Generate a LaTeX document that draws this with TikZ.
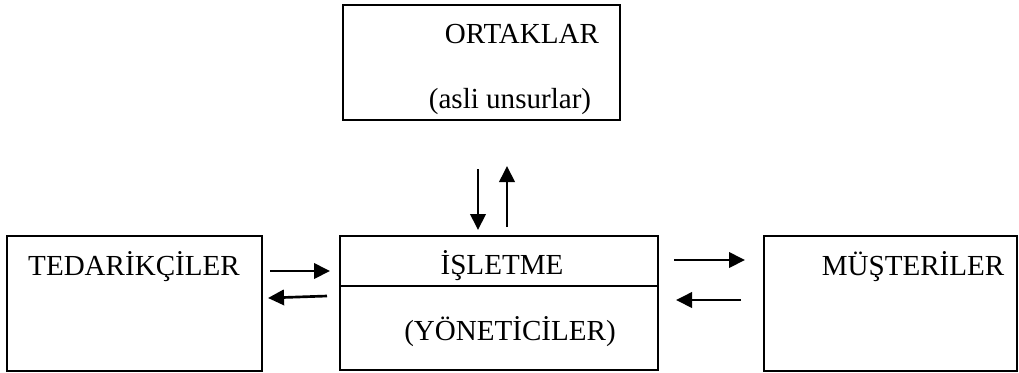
\documentclass[tikz,border=0pt]{standalone}
\usepackage{fontspec}
\setmainfont{Liberation Serif}
\usetikzlibrary{calc,arrows.meta}
\begin{document}
\begin{tikzpicture}[x=0.75pt,y=-0.75pt,
  box/.style={draw,line width=1.5pt,inner sep=0pt,minimum width=#1},
  lbl/.style={anchor=base,inner sep=0pt,font=\fontsize{21.8pt}{26pt}\selectfont},
  arr/.style={line width=2pt,-{Triangle[length=12pt,width=11.5pt]}}]
\useasboundingbox (0,0) rectangle (1019,372);
\node[box=277*0.75pt,minimum height=115*0.75pt] (ort) at (481.5,62.5) {};
\node[box=255*0.75pt,minimum height=135*0.75pt] (ted) at (134.5,303.5) {};
\node[box=318*0.75pt,minimum height=134*0.75pt] (isl) at (499,303) {};
\node[box=253*0.75pt,minimum height=135*0.75pt] (mus) at (890.5,303.5) {};
\draw[line width=1.5pt] (isl.west |- 0,286) -- (isl.east |- 0,286);
\node[lbl] (tort) at (522,43) {ORTAKLAR};
\node[lbl] (tasli) at (510,108) {(asli unsurlar)};
\node[lbl] (tted) at (134,275) {TEDARİKÇİLER};
\node[lbl] (tmus) at (913,275) {MÜŞTERİLER};
\node[lbl] (tisl) at (502,274) {İŞLETME};
\node[lbl] (tyon) at (510,340) {(YÖNETİCİLER)};
\draw[arr] ($(ort.south)+(-3.5,48)$) -- ($(isl.north)+(-21,-5)$);
\draw[arr] ($(isl.north)+(8,-8)$) -- ($(ort.south)+(25.5,45)$);
\draw[arr] ($(ted.east)+(7,-32.5)$) -- ($(isl.west)+(-9,-32)$);
\draw[arr] ($(isl.west)+(-12,-7)$) -- ($(ted.east)+(5,-5.5)$);
\draw[arr] ($(isl.east)+(15,-43)$) -- ($(mus.west)+(-18,-43.5)$);
\draw[arr] ($(mus.west)+(-22,-3.5)$) -- ($(isl.east)+(17,-3)$);
\end{tikzpicture}
\end{document}
